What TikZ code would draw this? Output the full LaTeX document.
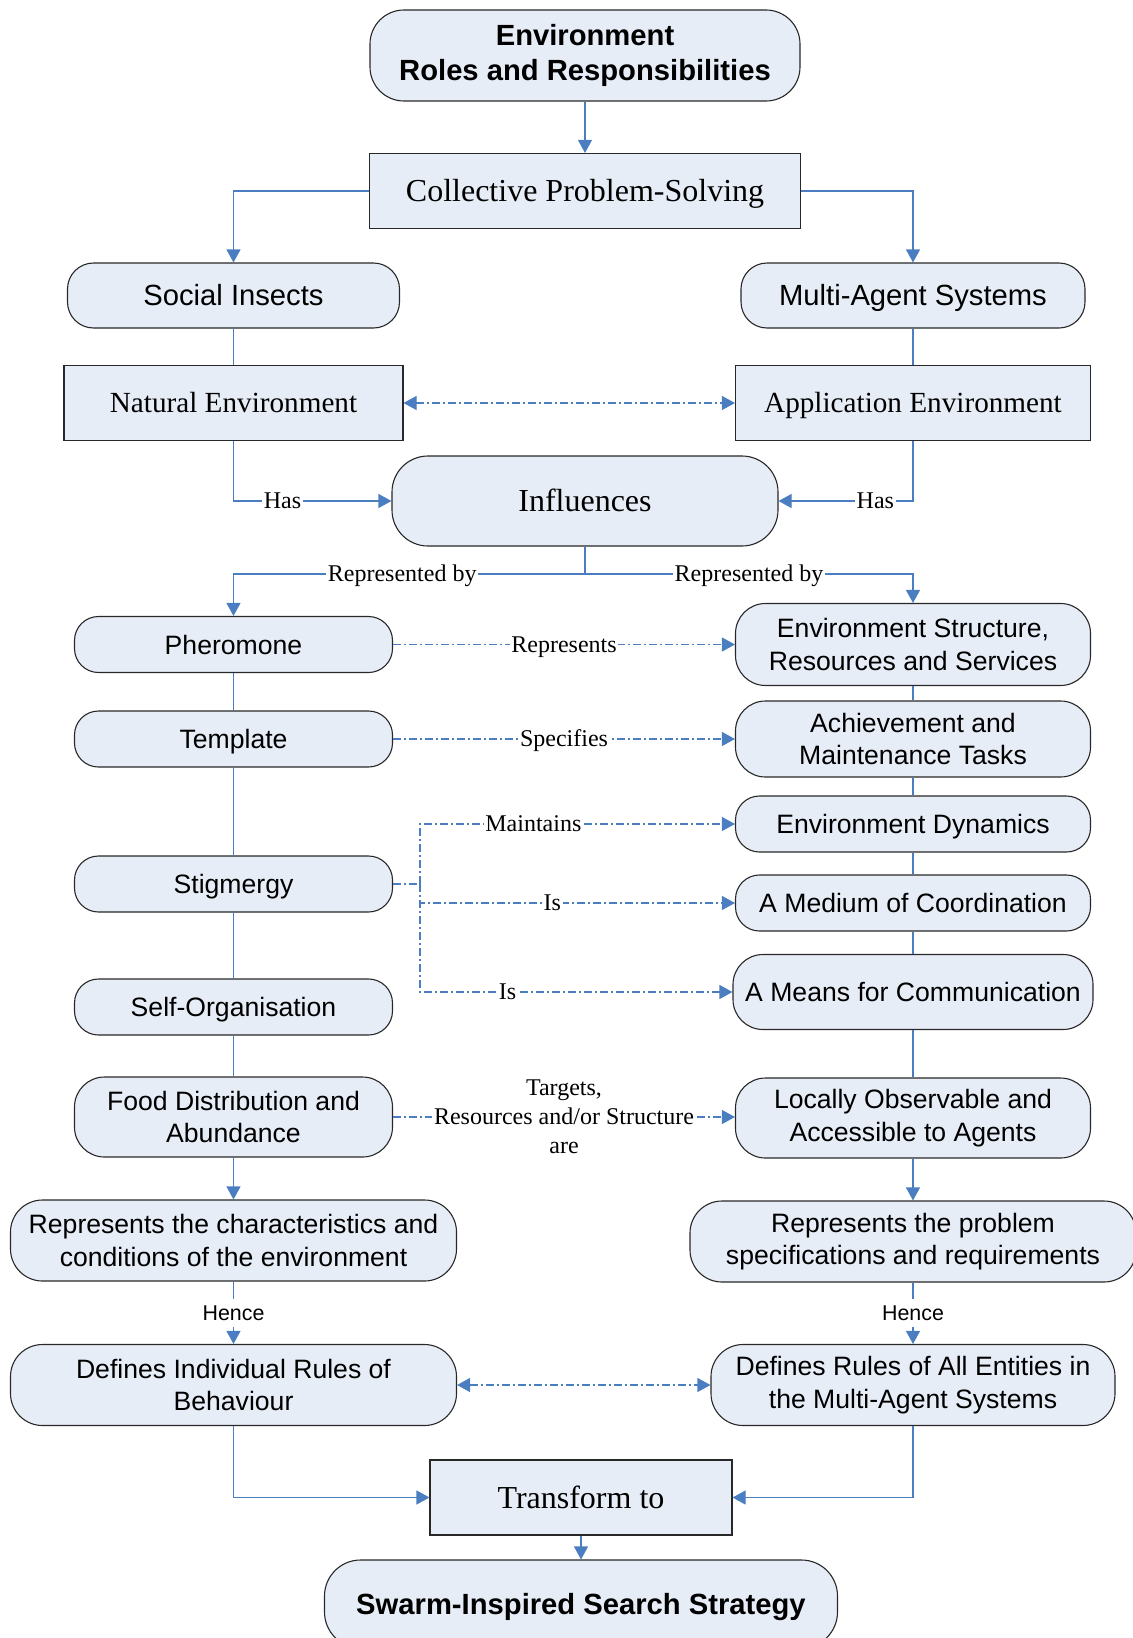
\documentclass[tikz,border=0pt]{standalone}
\usepackage{fontspec}
\newfontfamily\arialf{Liberation Sans}
\newfontfamily\timesf{Liberation Serif}
\usetikzlibrary{arrows.meta}
\definecolor{fillc}{RGB}{231,237,247}
\definecolor{linec}{RGB}{74,126,193}
\definecolor{bordc}{RGB}{40,40,40}
\newcommand{\vstr}[2]{\rule[-#2]{0pt}{#1}}
\begin{document}
\begin{tikzpicture}[x=0.5pt,y=-0.5pt,
  rnd/.style={draw=bordc, fill=fillc, line width=0.55pt, rounded corners=#1, align=center, inner sep=1pt},
  rct/.style={draw=bordc, fill=fillc, line width=0.55pt, align=center, inner sep=1pt},
  sz/.style 2 args={minimum width=#1, minimum height=#2},
  st/.style 2 args={execute at begin node={\vstr{#1}{#2}}},
  afm/.style={font=\arialf\fontsize{13.3}{16.2}\selectfont},
  af/.style={afm, st={15.11pt}{2.79pt}},
  afbig/.style={st={16.59pt}{3.07pt}, font=\arialf\fontsize{14.6}{17.2}\selectfont},
  afboldm/.style={font=\arialf\bfseries\fontsize{14.6}{17.2}\selectfont},
  afbold/.style={afboldm, st={16.59pt}{3.07pt}},
  tfbig/.style={st={17.53pt}{3.47pt}, font=\timesf\fontsize{16}{19}\selectfont},
  tfmid/.style={st={16.0pt}{3.17pt}, font=\timesf\fontsize{14.6}{17.2}\selectfont},
  ln/.style={draw=linec, line width=0.55pt},
  conn/.style={ln, -{Triangle[length=6.5pt,width=7pt]}},
  dd/.style={draw=linec, line width=0.55pt, dash pattern=on 4pt off 1.5pt on 1pt off 1.5pt},
  dda/.style={dd, -{Triangle[length=6.5pt,width=7pt]}},
  ddb/.style={dd, {Triangle[length=6.5pt,width=7pt]}-{Triangle[length=6.5pt,width=7pt]}},
  lblm/.style={fill=white, inner sep=0.8pt, font=\timesf\fontsize{12}{14.5}\selectfont},
  lbl/.style={lblm, st={13.15pt}{2.6pt}},
  hence/.style={st={12.16pt}{2.25pt}, fill=white, inner sep=1pt, font=\arialf\fontsize{10.7}{13}\selectfont}
]
\useasboundingbox (0,0) rectangle (1132,1638);

% nodes
\node[rnd=17pt, sz={215pt}{45.5pt}, afboldm] (envroles) at (585,55.5) {Environment\\Roles and Responsibilities};
\node[rct, sz={215.5pt}{37.5pt}, tfbig] (collective) at (585,191) {Collective Problem-Solving};
\node[rnd=13pt, sz={166pt}{32.5pt}, afbig] (social) at (233.5,295.5) {Social Insects};
\node[rnd=13pt, sz={172pt}{32.5pt}, afbig] (mas) at (913,295.5) {Multi-Agent Systems};
\node[rct, sz={169.5pt}{37.5pt}, tfmid] (natural) at (233.5,403) {Natural Environment};
\node[rct, sz={177.5pt}{37.5pt}, tfmid] (appenv) at (913,403) {Application Environment};
\node[rnd=18pt, sz={193pt}{45pt}, tfbig] (influences) at (585,501) {Influences};
\node[rnd=12pt, sz={159pt}{28pt}, af] (pheromone) at (233.5,644.5) {Pheromone};
\node[rnd=15pt, sz={177.5pt}{41pt}, afm] (envstruct) at (913,644.5) {Environment Structure,\\Resources and Services};
\node[rnd=12pt, sz={159pt}{28pt}, af] (template) at (233.5,739) {Template};
\node[rnd=15pt, sz={177.5pt}{38pt}, afm] (achieve) at (913,739) {Achievement and\\Maintenance Tasks};
\node[rnd=12pt, sz={177.5pt}{28pt}, af] (envdyn) at (913,824) {Environment Dynamics};
\node[rnd=12pt, sz={159pt}{28pt}, af] (stigmergy) at (233.5,884) {Stigmergy};
\node[rnd=12pt, sz={177.5pt}{28pt}, af] (medium) at (913,903) {A Medium of Coordination};
\node[rnd=15pt, sz={180pt}{37.5pt}, af] (means) at (913,992) {A Means for Communication};
\node[rnd=12pt, sz={159pt}{28pt}, af] (selforg) at (233.5,1007) {Self-Organisation};
\node[rnd=15pt, sz={159pt}{40pt}, afm] (food) at (233.5,1117) {Food Distribution and\\Abundance};
\node[rnd=15pt, sz={177.5pt}{40pt}, afm] (locally) at (913,1118) {Locally Observable and\\Accessible to Agents};
\node[rnd=16pt, sz={223pt}{40.5pt}, afm] (repchar) at (233.5,1240.5) {Represents the characteristics and\\conditions of the environment};
\node[rnd=16pt, sz={223pt}{40.5pt}, afm] (repprob) at (913,1241.5) {Represents the problem\\specifications and requirements};
\node[rnd=16pt, sz={223pt}{40.5pt}, afm] (defind) at (233.5,1385) {Defines Individual Rules of\\Behaviour};
\node[rnd=16pt, sz={202pt}{40.5pt}, afm] (defall) at (913,1385) {Defines Rules of All Entities in\\the Multi-Agent Systems};
\node[rct, sz={151pt}{37.5pt}, tfbig] (transform) at (581,1497.5) {Transform to};
\node[rnd=18pt, sz={256.5pt}{44pt}, afbold] (swarm) at (581,1604) {Swarm-Inspired Search Strategy};

% connectors top
\draw[conn] (envroles.south) -- (collective.north);
\draw[conn] (collective.west) -| (social.north);
\draw[conn] (collective.east) -| (mas.north);
\draw[ln] (social.south) -- (natural.north);
\draw[ln] (mas.south) -- (appenv.north);
\draw[ddb] (natural.east) -- (appenv.west);
\draw[conn] (natural.south) |- node[lbl,pos=0.655]{Has} (influences.west);
\draw[conn] (appenv.south) |- node[lbl,pos=0.64]{Has} (influences.east);
\coordinate (infj) at (585,574);
\draw[ln] (influences.south) -- (infj);
\draw[conn] (infj) -| node[lbl,pos=0.26]{Represented by} (pheromone.north);
\draw[conn] (infj) -| node[lbl,pos=0.25]{Represented by} (envstruct.north);

% horizontal relations
\draw[dda] (pheromone.east) -- node[lbl]{Represents} (envstruct.west);
\draw[dda] (template.east) -- node[lbl]{Specifies} (achieve.west);
\coordinate (stj) at (420,884);
\draw[dd] (stigmergy.east) -- (stj);
\draw[dda] (stj) |- node[lbl,pos=0.68]{Maintains} (envdyn.west);
\draw[dda] (stj) |- node[lbl,pos=0.71]{Is} (medium.west);
\draw[dda] (stj) |- node[lbl,pos=0.64]{Is} (means.west);
\draw[dda] (food.east) -- node[lblm,align=center]{Targets,\\Resources and/or Structure\\are} (food.east -| locally.west);

% left column
\draw[ln] (pheromone.south) -- (template.north);
\draw[ln] (template.south) -- (stigmergy.north);
\draw[ln] (stigmergy.south) -- (selforg.north);
\draw[ln] (selforg.south) -- (food.north);
\draw[conn] (food.south) -- (repchar.north);
\draw[conn] (repchar.south) -- node[hence]{Hence} (defind.north);

% right column
\draw[ln] (envstruct.south) -- (achieve.north);
\draw[ln] (achieve.south) -- (envdyn.north);
\draw[ln] (envdyn.south) -- (medium.north);
\draw[ln] (medium.south) -- (means.north);
\draw[ln] (means.south) -- (locally.north);
\draw[conn] (locally.south) -- (repprob.north);
\draw[conn] (repprob.south) -- node[hence]{Hence} (defall.north);

% bottom
\draw[ddb] (defind.east) -- (defind.east -| defall.west);
\draw[conn] (defind.south) |- (transform.west);
\draw[conn] (defall.south) |- (transform.east);
\draw[conn] (transform.south) -- (swarm.north);
\end{tikzpicture}
\end{document}
